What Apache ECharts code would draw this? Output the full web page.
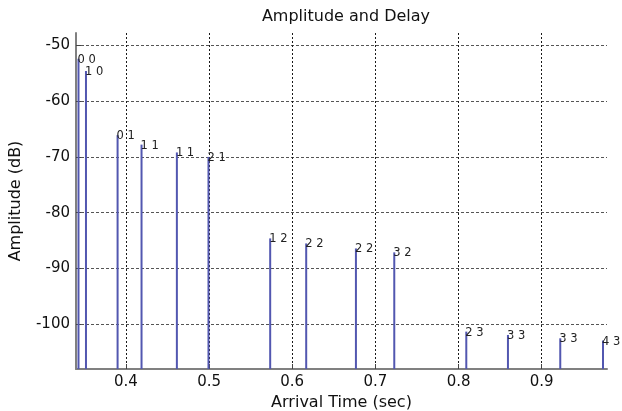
<!DOCTYPE html>
<html>
<head>
<meta charset="utf-8">
<script src="https://cdn.jsdelivr.net/npm/echarts@6/dist/echarts.min.js"></script>
<style>
html,body{margin:0;padding:0;background:#fff;}
#main{width:622px;height:411px;}
</style>
</head>
<body>
<div id="main"></div>
<script>
// Arrival times (sec) of each path
const arrivalTimes = [0.343, 0.352, 0.390, 0.4188, 0.4613, 0.4993, 0.5735, 0.6168, 0.6766, 0.7227, 0.8093, 0.8594, 0.9223, 0.9737];
// Amplitudes (dB)
const amplitudes = [-52.4, -54.6, -66.1, -67.8, -69.2, -70.0, -84.6, -85.5, -86.4, -87.1, -101.3, -101.9, -102.5, -102.9];
// Path labels
const pathLabels = ["0 0", "1 0", "0 1", "1 1", "1 1", "2 1", "1 2", "2 2", "2 2", "3 2", "2 3", "3 3", "3 3", "4 3"];
// Tick values
const xTicks = [0.4, 0.5, 0.6, 0.7, 0.8, 0.9];
const yTicks = [-100, -90, -80, -70, -60, -50];
const X_MIN = 0.34, X_MAX = 0.9785;
const Y_MIN = -108, Y_MAX = -47.8;

const FONT = '"DejaVu Sans", sans-serif';
const chart = echarts.init(document.getElementById('main'), null, {renderer: 'canvas'});
const data = arrivalTimes.map((t, i) => [t, amplitudes[i]]);

chart.setOption({
  animation: false,
  backgroundColor: '#fff',
  title: {
    text: 'Amplitude and Delay',
    left: 341, top: 4, textAlign: 'center',
    textStyle: {fontFamily: FONT, fontSize: 16, fontWeight: 'normal', color: '#111'}
  },
  grid: {left: 76, right: 15, top: 33, bottom: 42, containLabel: false, outerBoundsMode: 'none'},
  xAxis: {
    type: 'value', min: X_MIN, max: X_MAX,
    name: 'Arrival Time (sec)', nameLocation: 'middle', nameGap: 21,
    nameTextStyle: {fontFamily: FONT, fontSize: 16, color: '#111'},
    axisLine: {show: true, onZero: false, lineStyle: {color: '#808080', width: 2}},
    axisTick: {show: true, inside: true, length: 5, customValues: xTicks, lineStyle: {color: '#444', width: 1}},
    axisLabel: {customValues: xTicks, margin: 6, fontFamily: FONT, fontSize: 15, color: '#111',
      formatter: v => v.toFixed(1)},
    splitLine: {show: true, lineStyle: {color: '#1a1a1a', width: 1, type: [2, 2]}}
  },
  yAxis: {
    type: 'value', min: Y_MIN, max: Y_MAX,
    name: 'Amplitude (dB)', nameLocation: 'middle', nameGap: 52,
    nameTextStyle: {fontFamily: FONT, fontSize: 16, color: '#111'},
    axisLine: {show: true, onZero: false, lineStyle: {color: '#808080', width: 2}},
    axisTick: {show: true, inside: true, length: 5, customValues: yTicks, lineStyle: {color: '#444', width: 1}},
    axisLabel: {customValues: yTicks, margin: 6, fontFamily: FONT, fontSize: 15, color: '#111'},
    splitLine: {show: true, lineStyle: {color: '#555', width: 1, type: [3, 2]}}
  },
  series: [{
    type: 'custom',
    clip: false,
    data: data,
    renderItem: function (params, api) {
      const t = api.value(0), a = api.value(1);
      const top = api.coord([t, a]);
      const bot = api.coord([t, Y_MIN]);
      return {
        type: 'group',
        children: [
          {type: 'line', shape: {x1: top[0], y1: top[1], x2: bot[0], y2: bot[1]},
            style: {stroke: '#5257b0', lineWidth: 2}},
          {type: 'text', x: top[0] - 1, y: top[1] + 1,
            style: {text: pathLabels[params.dataIndex], fill: '#222', fontSize: 11.5, fontFamily: 'DejaVu Sans',
              align: 'left', verticalAlign: 'middle'}}
        ]
      };
    }
  }]
});
</script>
</body>
</html>
